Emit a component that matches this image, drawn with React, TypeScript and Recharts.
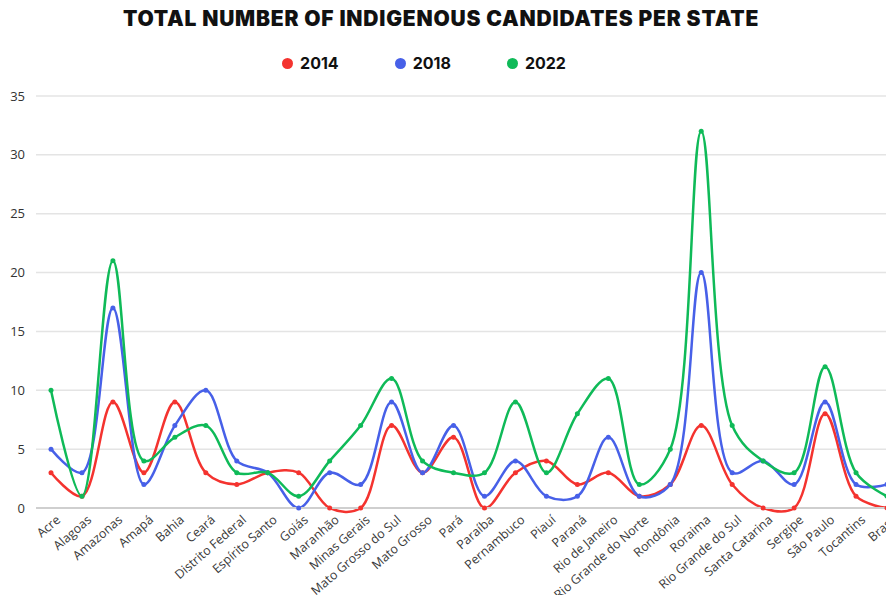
import React from 'react';
import { LineChart, Line, XAxis, YAxis, CartesianGrid, Legend } from 'recharts';

const states = [
  'Acre', 'Alagoas', 'Amazonas', 'Amapá', 'Bahia', 'Ceará', 'Distrito Federal', 'Espírito Santo',
  'Goiás', 'Maranhão', 'Minas Gerais', 'Mato Grosso do Sul', 'Mato Grosso', 'Pará', 'Paraíba',
  'Pernambuco', 'Piauí', 'Paraná', 'Rio de Janeiro', 'Rio Grande do Norte', 'Rondônia', 'Roraima',
  'Rio Grande do Sul', 'Santa Catarina', 'Sergipe', 'São Paulo', 'Tocantins', 'Brasil',
];
const values2014 = [3, 1, 9, 3, 9, 3, 2, 3, 3, 0, 0, 7, 3, 6, 0, 3, 4, 2, 3, 1, 2, 7, 2, 0, 0, 8, 1, 0];
const values2018 = [5, 3, 17, 2, 7, 10, 4, 3, 0, 3, 2, 9, 3, 7, 1, 4, 1, 1, 6, 1, 2, 20, 3, 4, 2, 9, 2, 2];
const values2022 = [10, 1, 21, 4, 6, 7, 3, 3, 1, 4, 7, 11, 4, 3, 3, 9, 3, 8, 11, 2, 5, 32, 7, 4, 3, 12, 3, 1];
const yTicks = [0, 5, 10, 15, 20, 25, 30, 35];
const title = 'TOTAL NUMBER OF INDIGENOUS CANDIDATES PER STATE';

const COLORS = { y2014: '#f4332f', y2018: '#4760e8', y2022: '#0fba58' };

const data = states.map((s, i) => ({
  state: s,
  y2014: values2014[i],
  y2018: values2018[i],
  y2022: values2022[i],
}));

// centripetal Catmull-Rom curve factory (alpha 0.5)
function smoothCurve(context: any) {
  let pts: number[][] = [];
  const alpha = 0.5;
  const eps = 1e-12;
  const dist2a = (a: number[], b: number[]) => {
    const dx = a[0] - b[0];
    const dy = a[1] - b[1];
    return Math.pow(dx * dx + dy * dy, alpha);
  };
  return {
    areaStart() {},
    areaEnd() {},
    lineStart() {
      pts = [];
    },
    lineEnd() {
      if (!pts.length) return;
      context.moveTo(pts[0][0], pts[0][1]);
      if (pts.length === 2) {
        context.lineTo(pts[1][0], pts[1][1]);
        return;
      }
      for (let i = 0; i < pts.length - 1; i++) {
        const p0 = pts[i - 1];
        const p1 = pts[i];
        const p2 = pts[i + 1];
        const p3 = pts[i + 2];
        let c1x = p1[0];
        let c1y = p1[1];
        let c2x = p2[0];
        let c2y = p2[1];
        const l12_2a = dist2a(p1, p2);
        const l12_a = Math.sqrt(l12_2a);
        if (p0) {
          const l01_2a = dist2a(p0, p1);
          const l01_a = Math.sqrt(l01_2a);
          if (l01_a > eps) {
            const a = 2 * l01_2a + 3 * l01_a * l12_a + l12_2a;
            const n = 3 * l01_a * (l01_a + l12_a);
            c1x = (p1[0] * a - p0[0] * l12_2a + p2[0] * l01_2a) / n;
            c1y = (p1[1] * a - p0[1] * l12_2a + p2[1] * l01_2a) / n;
          }
        }
        if (p3) {
          const l23_2a = dist2a(p2, p3);
          const l23_a = Math.sqrt(l23_2a);
          if (l23_a > eps) {
            const b = 2 * l23_2a + 3 * l23_a * l12_a + l12_2a;
            const m = 3 * l23_a * (l23_a + l12_a);
            c2x = (p2[0] * b + p1[0] * l23_2a - p3[0] * l12_2a) / m;
            c2y = (p2[1] * b + p1[1] * l23_2a - p3[1] * l12_2a) / m;
          }
        }
        context.bezierCurveTo(c1x, c1y, c2x, c2y, p2[0], p2[1]);
      }
    },
    point(x: number, y: number) {
      pts.push([+x, +y]);
    },
  };
}

const XTick = (props: any) => {
  const { x, y, payload } = props;
  return (
    <text
      x={0}
      y={0}
      dy={8}
      textAnchor="end"
      fontSize={12.5}
      fontFamily="'Open Sans', sans-serif"
      fill="#3a3a3a"
      transform={`translate(${x + 5},${y - 1}) rotate(-41)`}
    >
      {payload.value}
    </text>
  );
};

const LegendContent = (props: any) => {
  const payload = props.payload || [];
  return (
    <div style={{ width: 894 }}>
      <div
        style={{
          textAlign: 'center',
          paddingRight: 12,
          paddingTop: 6,
          fontFamily: 'Inter, sans-serif',
          fontWeight: 900,
          fontSize: 21,
          color: '#111',
          letterSpacing: 0.8,
          lineHeight: '26px',
          whiteSpace: 'nowrap',
        }}
      >
        {title}
      </div>
      <div
        style={{
          display: 'flex',
          justifyContent: 'center',
          paddingRight: 46,
          marginTop: 21,
          gap: 56,
        }}
      >
        {payload.map((p: any) => (
          <div key={p.value} style={{ display: 'flex', alignItems: 'center' }}>
            <span
              style={{
                width: 11,
                height: 11,
                borderRadius: '50%',
                background: p.color,
                display: 'inline-block',
                marginRight: 7,
              }}
            />
            <span
              style={{
                fontFamily: 'Inter, sans-serif',
                fontWeight: 700,
                fontSize: 16,
                color: '#111',
              }}
            >
              {p.value}
            </span>
          </div>
        ))}
      </div>
    </div>
  );
};

export default function App() {
  return (
    <div style={{ margin: -8, width: 894, height: 603, overflow: 'hidden', background: '#fff' }}>
      <LineChart width={894} height={603} data={data} margin={{ top: 96, right: 0, left: 0, bottom: 0 }}>
        <CartesianGrid vertical={false} stroke="#e4e4e4" strokeWidth={1.5} />
        <XAxis
          dataKey="state"
          interval={0}
          height={95}
          padding={{ left: 15, right: 7 }}
          tick={<XTick />}
          tickLine={false}
          axisLine={{ stroke: '#cfcfcf', strokeWidth: 2 }}
        />
        <YAxis
          domain={[0, 35]}
          ticks={yTicks}
          width={36}
          tickLine={false}
          axisLine={false}
          tickSize={6}
          tickMargin={5}
          tick={{ fontSize: 13, fill: '#333', fontFamily: "'Open Sans', sans-serif" }}
        />
        <Legend
          verticalAlign="middle"
          align="center"
          layout="horizontal"
          wrapperStyle={{ top: 0, left: 0, width: 894 }}
          content={<LegendContent />}
        />
        <Line
          dataKey="y2014"
          name="2014"
          stroke={COLORS.y2014}
          strokeWidth={2.5}
          type={smoothCurve as any}
          dot={{ r: 2.5, fill: COLORS.y2014, stroke: COLORS.y2014, strokeWidth: 0 }}
          isAnimationActive={false}
        />
        <Line
          dataKey="y2018"
          name="2018"
          stroke={COLORS.y2018}
          strokeWidth={2.5}
          type={smoothCurve as any}
          dot={{ r: 2.5, fill: COLORS.y2018, stroke: COLORS.y2018, strokeWidth: 0 }}
          isAnimationActive={false}
        />
        <Line
          dataKey="y2022"
          name="2022"
          stroke={COLORS.y2022}
          strokeWidth={2.5}
          type={smoothCurve as any}
          dot={{ r: 2.5, fill: COLORS.y2022, stroke: COLORS.y2022, strokeWidth: 0 }}
          isAnimationActive={false}
        />
      </LineChart>
    </div>
  );
}
